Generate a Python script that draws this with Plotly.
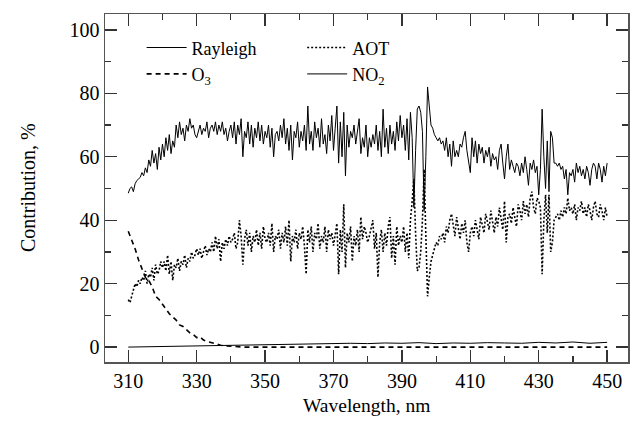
import numpy as np
import plotly.graph_objects as go

# wavelength grid for Rayleigh / AOT (0.5 nm)
wl_start, wl_stop, wl_step = 310.0, 450.0, 0.5
wavelength = [wl_start + i * wl_step for i in range(int((wl_stop - wl_start) / wl_step) + 1)]

rayleigh = [
    48.5, 50, 50.5, 49, 51.5, 52.5, 53, 53.5, 55, 54, 56.5, 55, 59, 57, 62, 58, 61, 56, 63, 59, 64,
    60, 66, 62, 67, 61, 65, 63, 70, 66, 71, 67, 69, 65, 70, 68, 72, 69, 70, 67, 66,
    68, 70, 67, 69, 68, 71, 66, 69, 70, 68, 71, 67, 70, 68, 71, 67, 69, 65, 68, 70,
    66, 71, 64, 70, 67, 72, 60, 68, 66, 71, 64, 70, 63, 69, 66, 71, 65, 70, 64, 68,
    66, 70, 63, 69, 60, 67, 68, 65, 70, 66, 72, 64, 69, 62, 70, 59, 68, 66, 71, 63,
    68, 65, 70, 62, 76, 64, 68, 62, 71, 66, 69, 63, 72, 64, 67, 61, 70, 65, 73, 62,
    69, 76, 58, 71, 60, 74, 54, 70, 63, 68, 66, 70, 64, 68, 72, 61, 66, 63, 70, 60,
    66, 63, 67, 64, 70, 62, 68, 60, 75, 63, 69, 61, 70, 64, 68, 62, 71, 65, 73, 66,
    70, 62, 72, 59, 74, 66, 44, 62, 75, 76, 74, 68, 43, 60, 82, 76, 70, 69, 67, 66,
    65, 66, 64, 65, 62, 66, 60, 64, 57, 65, 60, 62, 60, 64, 63, 66, 68, 62, 59, 55,
    66, 60, 65, 58, 64, 61, 63, 58, 62, 60, 63, 57, 61, 59, 60, 56, 62, 64, 58, 53,
    60, 64, 56, 59, 57, 55, 58, 57, 54, 58, 55, 60, 56, 51, 58, 56, 59, 55, 57, 48,
    56, 75, 60, 50, 65, 49, 68, 66, 58, 58, 57, 58, 56, 57, 53, 56, 48, 55, 54, 56,
    52, 58, 55, 57, 54, 56, 53, 57, 55, 51, 56, 58, 57, 53, 58, 56, 52, 57, 54, 58,
]

aot = [
    15, 14, 16, 18, 20, 19, 21, 20, 22, 21, 24, 20, 23, 22, 25, 21, 26, 23, 24, 27, 25,
    27, 24, 29, 23, 27, 21, 26, 25, 28, 24, 27, 26, 29, 25, 28, 27, 30, 28, 29, 31,
    29, 31, 28, 30, 32, 29, 31, 30, 33, 30, 35, 31, 34, 27, 33, 31, 34, 32, 35, 33,
    34, 36, 31, 33, 40, 35, 26, 34, 37, 32, 36, 30, 35, 33, 37, 32, 36, 31, 38, 34,
    33, 36, 32, 39, 30, 35, 34, 37, 31, 36, 33, 38, 32, 40, 27, 35, 33, 37, 31, 36,
    34, 38, 32, 23, 37, 33, 38, 30, 36, 34, 39, 31, 35, 33, 38, 30, 37, 34, 36, 32,
    35, 39, 23, 37, 30, 45, 25, 36, 33, 38, 27, 35, 32, 37, 30, 41, 34, 38, 36, 33,
    35, 38, 40, 31, 36, 22, 33, 37, 30, 36, 32, 38, 41, 28, 35, 26, 38, 32, 35, 33,
    38, 30, 36, 28, 40, 46, 53, 36, 24, 25, 30, 40, 56, 35, 16, 22, 27, 29, 31, 33,
    32, 35, 34, 36, 33, 38, 36, 40, 42, 38, 35, 41, 37, 34, 39, 36, 40, 33, 30, 36,
    38, 35, 40, 37, 34, 41, 38, 36, 42, 39, 37, 43, 40, 36, 41, 38, 44, 40, 37, 46,
    33, 41, 42, 39, 44, 41, 38, 45, 43, 40, 46, 42, 45, 41, 47, 49, 44, 42, 47, 46,
    44, 23, 40, 48, 36, 48, 30, 33, 40, 41, 42, 40, 43, 41, 44, 42, 47, 43, 44, 42,
    45, 40, 44, 43, 46, 42, 44, 41, 45, 43, 40, 44, 46, 42, 41, 45, 43, 40, 44, 41,
]

o3_wavelength = list(range(310, 346)) + list(range(350, 451, 10))
o3 = [
    36.5, 34, 31, 27.5, 25, 22, 21, 19, 16, 15, 13.5, 12, 10.5, 9.5, 8.5, 7, 6.5, 5.5,
    4.5, 4, 3, 3.2, 2.2, 1.8, 1.5, 1.0, 0.8, 0.6, 0.4, 0.3, 0.2, 0.1, 0.1, 0, 0, 0,
    0, 0, 0, 0, 0, 0, 0, 0, 0, 0, 0,
]

no2_wavelength = list(range(310, 451, 5))
no2 = [
    0, 0.1, 0.2, 0.3, 0.4, 0.5, 0.6, 0.7, 0.8, 0.9, 1.0, 1.0, 1.1, 1.2, 1.1,
    1.3, 1.2, 1.4, 1.1, 1.3, 1.2, 1.4, 1.3, 1.2, 1.5, 1.3, 1.6, 1.2, 1.5,
]

x_ticks = [310, 330, 350, 370, 390, 410, 430, 450]
y_ticks = [0, 20, 40, 60, 80, 100]

FONT = "Liberation Serif"

fig = go.Figure()
fig.add_trace(go.Scatter(x=wavelength, y=rayleigh, mode="lines", name="Rayleigh",
                         line=dict(color="black", width=1), legend="legend"))
fig.add_trace(go.Scatter(x=o3_wavelength, y=o3, mode="lines", name="O<sub>3</sub>",
                         line=dict(color="black", width=1.6, dash="5px,4px"), legend="legend"))
fig.add_trace(go.Scatter(x=wavelength, y=aot, mode="lines", name="AOT",
                         line=dict(color="black", width=1.6, dash="2px,2px"), legend="legend2"))
fig.add_trace(go.Scatter(x=no2_wavelength, y=no2, mode="lines", name="NO<sub>2</sub>",
                         line=dict(color="black", width=1), legend="legend2"))

axis_common = dict(
    showline=True, linecolor="#555", linewidth=1.5, mirror="ticks",
    ticks="inside", ticklen=12, tickwidth=1.3, tickcolor="#333",
    showgrid=False, zeroline=False, automargin=False,
    tickfont=dict(family=FONT, size=20, color="black"),
)

fig.update_xaxes(**axis_common, range=[303.2, 456.1], tickvals=x_ticks,
                 minor=dict(ticks="inside", ticklen=6, dtick=10, tick0=300, tickcolor="#333", tickwidth=1.2))
fig.update_yaxes(**axis_common, range=[-4.7, 105], tickvals=y_ticks,
                 minor=dict(ticks="inside", ticklen=6, dtick=10, tick0=0, tickcolor="#333", tickwidth=1.2))

legend_common = dict(bgcolor="rgba(0,0,0,0)", borderwidth=0, tracegroupgap=0,
                     font=dict(family=FONT, size=18, color="black"),
                     xanchor="left", yanchor="top", itemwidth=40)
fig.update_layout(
    width=632, height=433,
    margin=dict(l=105, r=4, t=14, b=71, autoexpand=False),
    paper_bgcolor="white", plot_bgcolor="white",
    showlegend=True,
    hovermode=False,
    legend=dict(**legend_common, x=0.07, y=0.956),
    legend2=dict(**legend_common, x=0.377, y=0.956),
    annotations=[
        dict(text="Wavelength, nm", xref="paper", yref="paper", x=0.5, y=-0.124,
             xanchor="center", yanchor="middle", showarrow=False,
             font=dict(family=FONT, size=19.5, color="black")),
        dict(text="Contribution, %", xref="paper", yref="paper", x=-0.147, y=0.5,
             xanchor="center", yanchor="middle", showarrow=False, textangle=-90,
             font=dict(family=FONT, size=20, color="black")),
    ],
)

fig.write_html("out.html",
               config={"displayModeBar": False, "staticPlot": True},
               post_script="document.body.style.margin='0';document.body.style.padding='0';")
